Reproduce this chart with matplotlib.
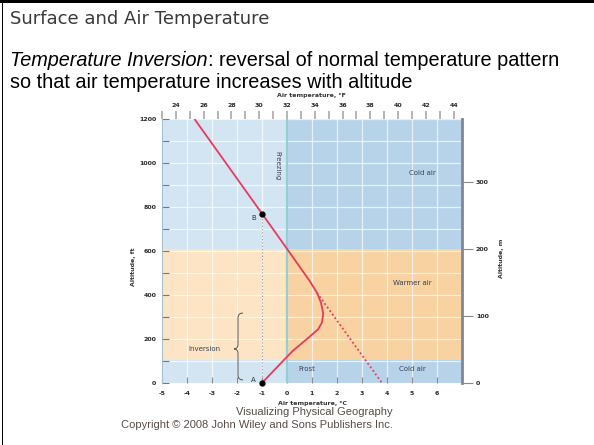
import matplotlib
matplotlib.use('Agg')
import matplotlib.pyplot as plt
from matplotlib.patches import Rectangle, PathPatch
from matplotlib.path import Path
from matplotlib.ticker import MultipleLocator, FixedLocator

# --- data ---
# temperature profile (deg C) against altitude (ft)
PROFILE_T = [-3.7, -1.0, 0.0, 0.9, 1.2, 1.36, 1.45, 1.40, 1.25, 0.85, 0.25, -0.12, -1.0]
PROFILE_Z = [1200, 770, 610, 465, 410, 365, 315, 275, 245, 205, 148, 105, 0]
# normal lapse continuation (dotted)
LAPSE_T = [1.2, 3.8]
LAPSE_Z = [410, 0]
# labelled points A and B
POINT_NAMES = ['A', 'B']
POINT_T = [-1.0, -1.0]
POINT_Z = [0, 770]
# air layers (ft)
LAYER_EDGES = [0, 105, 610, 1200]
LAYER_KIND = ['cold', 'warm', 'cold']
FREEZE_C = 0.0

X_TICKS_C = [-5, -4, -3, -2, -1, 0, 1, 2, 3, 4, 5, 6]
Y_TICKS_FT = [0, 200, 400, 600, 800, 1000, 1200]
TOP_TICKS_F = [24, 26, 28, 30, 32, 34, 36, 38, 40, 42, 44]
RIGHT_TICKS_M = [0, 100, 200, 300]

LAYER_TEXT = ['Cold air', 'Warmer air', 'Frost', 'Cold air', 'Inversion']
LAYER_TEXT_T = [5.4, 5.0, 0.8, 5.0, -3.3]
LAYER_TEXT_Z = [955, 455, 64, 64, 155]

COLORS = {
    ('cold', 'left'): '#d3e5f3',
    ('cold', 'right'): '#b7d3ea',
    ('warm', 'left'): '#fce4c5',
    ('warm', 'right'): '#f8d2a0',
}
RED = '#e83a5c'

W, H = 594, 445
fig = plt.figure(figsize=(W / 100, H / 100), dpi=100)
fig.patch.set_facecolor('white')


def px(x, y):
    return x / W, 1 - y / H


# slide frame
fig.add_artist(Rectangle((0, 1 - 3 / H), 1, 3 / H, transform=fig.transFigure,
                         facecolor='black', edgecolor='none'))
fig.add_artist(Rectangle((1.5 / W, 0), 1.5 / W, 1, transform=fig.transFigure,
                         facecolor='black', edgecolor='none'))

# slide text
fig.text(*px(10, 19), 'Surface and Air Temperature', fontsize=13,
         family='DejaVu Sans', color='#3a3a3a', va='center', ha='left')
fig.canvas.draw()
r = fig.canvas.get_renderer()
t1 = fig.text(*px(10, 60), 'Temperature Inversion', fontsize=14.3, style='italic',
              family='Liberation Sans', va='center', ha='left')
bb = t1.get_window_extent(r)
fig.text(bb.x1 / W, 1 - 60 / H, ': reversal of normal temperature pattern', fontsize=14.3,
         family='Liberation Sans', va='center', ha='left')
fig.text(*px(10, 82), 'so that air temperature increases with altitude', fontsize=14.3,
         family='Liberation Sans', va='center', ha='left')

# chart
ax = fig.add_axes([162 / W, 1 - 383 / H, 300 / W, 264 / H])
ax.set_xlim(-5, 7)
ax.set_ylim(0, 1200)

for i, kind in enumerate(LAYER_KIND):
    z0, z1 = LAYER_EDGES[i], LAYER_EDGES[i + 1]
    ax.add_patch(Rectangle((-5, z0), FREEZE_C + 5, z1 - z0, facecolor=COLORS[(kind, 'left')],
                           edgecolor='none', zorder=0))
    ax.add_patch(Rectangle((FREEZE_C, z0), 7 - FREEZE_C, z1 - z0, facecolor=COLORS[(kind, 'right')],
                           edgecolor='none', zorder=0))

ax.xaxis.set_major_locator(FixedLocator(X_TICKS_C))
ax.yaxis.set_major_locator(FixedLocator(Y_TICKS_FT))
ax.yaxis.set_minor_locator(MultipleLocator(100))
ax.xaxis.set_minor_locator(MultipleLocator(1))
ax.grid(True, which='both', color='white', lw=0.9, alpha=0.7, zorder=1)
ax.set_axisbelow(True)

ax.axvline(FREEZE_C, color='#93d0d2', lw=1.6, zorder=2)
ax.plot([POINT_T[0], POINT_T[1]], [POINT_Z[0], POINT_Z[1]], color='#9a9a9a', ls=(0, (1, 2)),
        lw=0.8, zorder=2)

ax.plot(LAPSE_T, LAPSE_Z, color=RED, lw=1.3, ls=(0, (1, 1.4)), zorder=3, clip_on=False)
ax.plot(PROFILE_T, PROFILE_Z, color=RED, lw=1.3, zorder=4, solid_capstyle='round')
ax.plot(POINT_T, POINT_Z, 'o', color='black', ms=3.5, zorder=5, clip_on=False)
for name, t, z in zip(POINT_NAMES, POINT_T, POINT_Z):
    ax.text(t - 0.25, z + 15 if z == 0 else z - 20, name, fontsize=5, color='#333333',
            ha='right', va='center')

for s, t, z in zip(LAYER_TEXT, LAYER_TEXT_T, LAYER_TEXT_Z):
    ax.text(t, z, s, fontsize=5, color='#3b4250', ha='center', va='center', zorder=6)
ax.text(-0.4, 990, 'Freezing', fontsize=5, color='#3b4250', rotation=-90,
        ha='center', va='center', zorder=6)

# brace beside "Inversion"
bx, bw, zt, zm, zb, rr = -1.96, 0.2, 318, 155, 14, 22
verts = [(bx + bw, zt), (bx, zt), (bx, zt - rr),
         (bx, zm + rr),
         (bx, zm), (bx - bw * 0.8, zm),
         (bx, zm), (bx, zm - rr),
         (bx, zb + rr),
         (bx, zb), (bx + bw, zb)]
codes = [Path.MOVETO, Path.CURVE3, Path.CURVE3, Path.LINETO, Path.CURVE3, Path.CURVE3,
         Path.CURVE3, Path.CURVE3, Path.LINETO, Path.CURVE3, Path.CURVE3]
ax.add_patch(PathPatch(Path(verts, codes), facecolor='none', edgecolor='#555555', lw=0.7,
                       zorder=6))

# spines and ticks
for sp in ['top', 'bottom']:
    ax.spines[sp].set_visible(False)
ax.spines['left'].set_color('#a9bfd3')
ax.spines['left'].set_linewidth(0.8)
ax.spines['right'].set_color('#7d8894')
ax.spines['right'].set_linewidth(2)

ax.tick_params(axis='x', which='major', direction='in', length=4, width=0.8, color='#8a8a8a',
               labelsize=4.5, labelcolor='#2a2a2a', pad=6)
ax.tick_params(axis='x', which='minor', length=0)
ax.tick_params(axis='y', which='both', direction='in', length=5, width=0.8, color='#777777',
               labelsize=4.5, labelcolor='#2a2a2a', pad=4)
ax.set_xticklabels([str(v) for v in X_TICKS_C], fontweight='bold')
ax.set_yticklabels([str(v) for v in Y_TICKS_FT], fontweight='bold')

top = ax.secondary_xaxis('top', functions=(lambda c: c * 9 / 5 + 32, lambda f: (f - 32) * 5 / 9))
top.xaxis.set_major_locator(FixedLocator(TOP_TICKS_F))
top.xaxis.set_minor_locator(MultipleLocator(1))
top.tick_params(which='both', direction='out', length=6, width=1.2, color='#a8a8a8',
                labelsize=4.5, labelcolor='#2a2a2a', pad=2)
top.set_xticklabels([str(v) for v in TOP_TICKS_F], fontweight='bold')
top.spines['top'].set_visible(False)

rax = ax.twinx()
rax.set_ylim(0, 395)
rax.yaxis.set_major_locator(FixedLocator(RIGHT_TICKS_M))
rax.tick_params(direction='out', length=8, width=0.8, color='#8a8a8a', labelsize=4.5,
                labelcolor='#2a2a2a', pad=2)
rax.set_yticklabels([str(v) for v in RIGHT_TICKS_M], fontweight='bold')
for sp in ['top', 'bottom', 'left', 'right']:
    rax.spines[sp].set_visible(False)

fig.text(*px(311, 96), 'Air temperature, \u00b0F', fontsize=4.5, fontweight='bold',
         color='#333333', ha='center', va='center')
fig.text(*px(312, 403), 'Air temperature, \u00b0C', fontsize=4.5, fontweight='bold',
         color='#333333', ha='center', va='center')
fig.text(*px(133, 267), 'Altitude, ft', fontsize=4.5, fontweight='bold', rotation=90,
         color='#333333', ha='center', va='center')
fig.text(*px(501, 258), 'Altitude, m', fontsize=4.5, fontweight='bold', rotation=90,
         color='#333333', ha='center', va='center')

# footer
fig.text(*px(393, 412), 'Visualizing Physical Geography', fontsize=8, family='Liberation Sans',
         color='#5a4c48', ha='right', va='center')
fig.text(*px(393, 425), 'Copyright \u00a9 2008 John Wiley and Sons Publishers Inc.', fontsize=8,
         family='Liberation Sans', color='#5a4c48', ha='right', va='center')

fig.savefig('out.png', dpi=100)
